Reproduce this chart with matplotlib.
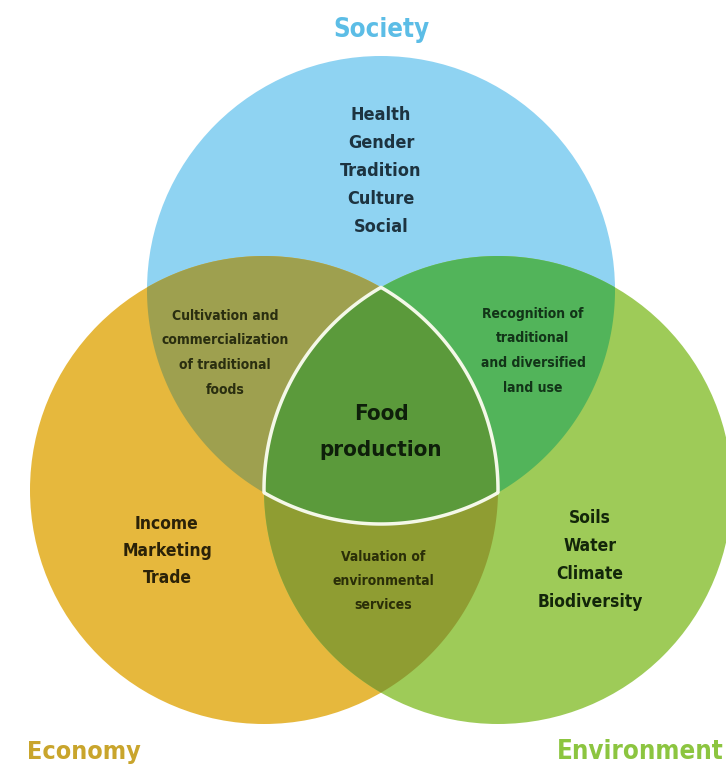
import numpy as np
import matplotlib
matplotlib.use("Agg")
import matplotlib.pyplot as plt
from matplotlib.patches import Circle, Polygon

# ---- data ----
set_names = ["Society", "Economy", "Environment"]
society_items = ["Health", "Gender", "Tradition", "Culture", "Social"]
economy_items = ["Income", "Marketing", "Trade"]
environment_items = ["Soils", "Water", "Climate", "Biodiversity"]
soc_eco_items = ["Cultivation and", "commercialization", "of traditional", "foods"]
soc_env_items = ["Recognition of", "traditional", "and diversified", "land use"]
eco_env_items = ["Valuation of", "environmental", "services"]
center_items = ["Food", "production"]

# ---- layout / style ----
W, H = 726, 768
centers = {"Society": (381, 290), "Economy": (264, 490), "Environment": (498, 490)}
R = 234
solo_col = {"Society": "#8fd3f2", "Economy": "#e6b83d", "Environment": "#9ecb58"}
pair_col = {("Society", "Economy"): "#9ea04f",
            ("Society", "Environment"): "#52b45a",
            ("Economy", "Environment"): "#8f9d32"}
center_col = "#5b9a3b"
title_col = {"Society": "#5cbde6", "Economy": "#c9a52c", "Environment": "#8cc540"}
FAM = ["DejaVu Sans"]
STRETCH = "condensed"

fig = plt.figure(figsize=(W / 100, H / 100), dpi=100)
ax = fig.add_axes([0, 0, 1, 1])
ax.set_xlim(0, W)
ax.set_ylim(H, 0)
ax.set_aspect("equal")
ax.axis("off")

def inside(pts, name):
    c = np.array(centers[name])
    return np.hypot(pts[:, 0] - c[0], pts[:, 1] - c[1]) <= R + 1e-6

def boundary(name, n=2000):
    t = np.linspace(0, 2 * np.pi, n, endpoint=False)
    c = centers[name]
    return np.column_stack([c[0] + R * np.cos(t), c[1] + R * np.sin(t)])

def region(names):
    pts = []
    for nm in names:
        b = boundary(nm)
        mask = np.ones(len(b), bool)
        for other in names:
            if other != nm:
                mask &= inside(b, other)
        pts.append(b[mask])
    pts = np.vstack(pts)
    cen = pts.mean(axis=0)
    ang = np.arctan2(pts[:, 1] - cen[1], pts[:, 0] - cen[0])
    return pts[np.argsort(ang)]

for nm in set_names:
    ax.add_patch(Circle(centers[nm], R, facecolor=solo_col[nm], edgecolor="none", zorder=1))
for pair, col in pair_col.items():
    ax.add_patch(Polygon(region(list(pair)), closed=True, facecolor=col, edgecolor="none", zorder=2))
ax.add_patch(Polygon(region(set_names), closed=True, facecolor=center_col,
                     edgecolor="#f4f8e8", linewidth=2.5, zorder=3))

def block(lines, x, y0, dy, size, color):
    for i, s in enumerate(lines):
        ax.text(x, y0 + i * dy, s, ha="center", va="center", fontsize=size,
                family=FAM, fontstretch=STRETCH, fontweight="bold", color=color, zorder=5)

block(society_items, 381, 115, 28, 13, "#1d3340")
block(soc_eco_items, 225, 316, 24.5, 10, "#2a2e10")
block(soc_env_items, 533, 314, 24.5, 10, "#123418")
block(center_items, 381, 414, 36, 16, "#0e1f0a")
block(eco_env_items, 383, 557, 24, 10, "#2a2e08")
block(economy_items, 167, 524, 27, 12.5, "#2b2208")
block(environment_items, 590, 518, 28, 12.5, "#13260a")

ax.text(381, 30, set_names[0], ha="center", va="center", fontsize=18.5, family=FAM,
        fontstretch=STRETCH, fontweight="bold", color=title_col["Society"])
ax.text(27, 752, set_names[1], ha="left", va="center", fontsize=18, family=FAM,
        fontstretch=STRETCH, fontweight="bold", color=title_col["Economy"])
ax.text(724, 752, set_names[2], ha="right", va="center", fontsize=18.5, family=FAM,
        fontstretch=STRETCH, fontweight="bold", color=title_col["Environment"])

fig.savefig("out.png", dpi=100)
